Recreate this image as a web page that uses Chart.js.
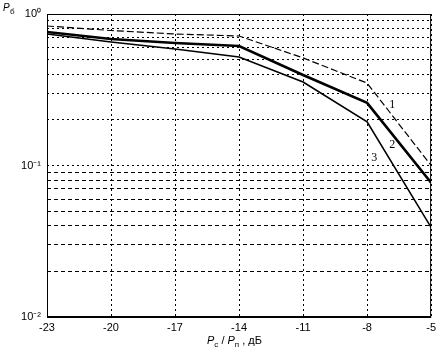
<!DOCTYPE html>
<html>
<head>
<meta charset="utf-8">
<script src="https://cdn.jsdelivr.net/npm/chart.js@4.4.0/dist/chart.umd.min.js"></script>
<style>
  html, body { margin: 0; padding: 0; background: #fff; }
  #wrap { width: 440px; height: 354px; }
</style>
</head>
<body>
<div id="wrap"><canvas id="chart"></canvas></div>
<script>
// SNR, dB
const snr = [-23, -20, -17, -14, -11, -8, -5];
// error probability for curves 1..3
const curve1 = [0.833, 0.778, 0.738, 0.716, 0.513, 0.350, 0.100];
const curve2 = [0.760, 0.684, 0.643, 0.615, 0.396, 0.259, 0.077];
const curve3 = [0.738, 0.653, 0.588, 0.520, 0.356, 0.194, 0.039];

const xTicks = [-23, -20, -17, -14, -11, -8, -5];
const yTicks = [0.01, 0.02, 0.03, 0.04, 0.05, 0.06, 0.07, 0.08, 0.09,
                0.1, 0.2, 0.3, 0.4, 0.5, 0.6, 0.7, 0.8, 0.9, 1];
const yLabels = { 1: '10\u2070', 0.1: '10\u207B\u00B9', 0.01: '10\u207B\u00B2' };

// curve numbers: [label, x, y]
const curveNames = [['1', -6.82, 0.251], ['2', -6.82, 0.137], ['3', -7.67, 0.112]];

function pts(ys) {
  return snr.map((x, i) => ({ x: x, y: ys[i] }));
}

const decor = {
  id: 'decor',
  afterDraw(chart) {
    const ctx = chart.ctx;
    const a = chart.chartArea;
    const xs = chart.scales.x, ys = chart.scales.y;
    ctx.save();
    // frame
    ctx.strokeStyle = '#000';
    ctx.setLineDash([]);
    ctx.lineWidth = 1;
    ctx.strokeRect(a.left + 0.5, a.top + 0.5, a.right - a.left - 1, a.bottom - a.top);
    ctx.lineWidth = 2;
    ctx.beginPath();
    ctx.moveTo(a.left, a.bottom);
    ctx.lineTo(a.right, a.bottom);
    ctx.stroke();

    ctx.fillStyle = '#000';
    // curve numbers
    ctx.font = '12px "Liberation Serif"';
    ctx.textAlign = 'center';
    ctx.textBaseline = 'middle';
    curveNames.forEach(c => {
      ctx.fillText(c[0], xs.getPixelForValue(c[1]), ys.getPixelForValue(c[2]));
    });

    // y title  P_б
    ctx.textAlign = 'left';
    ctx.textBaseline = 'alphabetic';
    ctx.font = 'italic 10px "Liberation Sans"';
    ctx.fillText('P', 3, 11);
    ctx.font = '8px "Liberation Sans"';
    ctx.fillText('\u0431', 10, 14);

    // x title  P_c / P_п , дБ
    let x = 207;
    const base = 344;
    function put(t, font, dy) {
      ctx.font = font;
      ctx.fillText(t, x, base + dy);
      x += ctx.measureText(t).width;
    }
    put('P', 'italic 11px "Liberation Sans"', 0);
    put('c', '8px "Liberation Sans"', 3);
    put(' / ', '11px "Liberation Sans"', 0);
    put('P', 'italic 11px "Liberation Sans"', 0);
    put('\u043F', '8px "Liberation Sans"', 3);
    put(' , \u0434\u0411', '11px "Liberation Sans"', 0);
    ctx.restore();
  }
};

new Chart(document.getElementById('chart'), {
  type: 'line',
  data: {
    datasets: [{
      label: '1',
      data: pts(curve1),
      borderColor: '#000',
      borderWidth: 1.2,
      borderDash: [7, 3],
      pointRadius: 0,
      tension: 0
    }, {
      label: '2',
      data: pts(curve2),
      borderColor: '#000',
      borderWidth: 2.6,
      pointRadius: 0,
      tension: 0
    }, {
      label: '3',
      data: pts(curve3),
      borderColor: '#000',
      borderWidth: 1.6,
      pointRadius: 0,
      tension: 0
    }]
  },
  options: {
    responsive: true,
    maintainAspectRatio: false,
    animation: false,
    layout: { padding: { top: 14, right: 8, left: 0, bottom: 0 } },
    plugins: { legend: { display: false }, tooltip: { enabled: false } },
    scales: {
      x: {
        type: 'linear',
        min: -23,
        max: -5,
        afterBuildTicks: s => { s.ticks = xTicks.map(v => ({ value: v })); },
        afterFit: s => { s.height = 37; },
        ticks: {
          color: '#000',
          padding: 4,
          font: { family: 'Liberation Sans', size: 11 },
          maxRotation: 0
        },
        grid: { color: '#000', lineWidth: 1, drawTicks: false },
        border: { display: false, dash: [2, 3] }
      },
      y: {
        type: 'logarithmic',
        min: 0.01,
        max: 1,
        afterBuildTicks: s => { s.ticks = yTicks.map(v => ({ value: v })); },
        afterFit: s => { s.width = 47; },
        ticks: {
          color: '#000',
          padding: 6,
          font: { family: 'Liberation Sans', size: 11 },
          autoSkip: false,
          callback: v => yLabels[v] || ''
        },
        grid: { color: '#000', lineWidth: 1, drawTicks: false },
        border: {
          display: false,
          dash: ctx => (ctx.tick && ctx.tick.value < 0.1 ? [4, 3] : [2, 3])
        }
      }
    }
  },
  plugins: [decor]
});
</script>
</body>
</html>
